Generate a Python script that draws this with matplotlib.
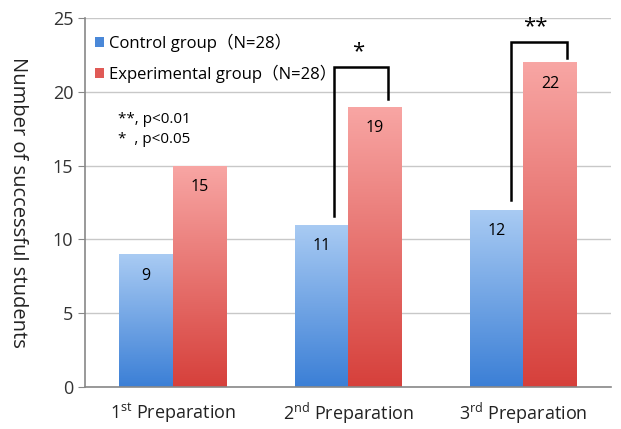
import numpy as np
import matplotlib
matplotlib.use('Agg')
import matplotlib.pyplot as plt
from matplotlib.colors import LinearSegmentedColormap
from matplotlib.patches import Rectangle

plt.rcParams['font.family'] = ['Open Sans', 'Noto Sans CJK JP', 'DejaVu Sans']
plt.rcParams['mathtext.fontset'] = 'custom'
plt.rcParams['mathtext.rm'] = 'Open Sans'

categories = ['1$^{\\mathrm{st}}$ Preparation', '2$^{\\mathrm{nd}}$ Preparation', '3$^{\\mathrm{rd}}$ Preparation']
control = [9, 11, 12]
experimental = [15, 19, 22]
series_names = ['Control group（N=28）', 'Experimental group（N=28）']
sig_marks = ['', '*', '**']

blue_cmap = LinearSegmentedColormap.from_list('b', ['#3b7fd6', '#a9cbf3'])
red_cmap = LinearSegmentedColormap.from_list('r', ['#d6403b', '#f8a6a4'])


def gradient_bar(ax, x, h, w, cmap):
    grad = np.linspace(0, 1, 256).reshape(-1, 1)
    im = ax.imshow(grad, cmap=cmap, origin='lower', aspect='auto',
                   extent=(x - w / 2, x + w / 2, 0, h), zorder=2)
    rect = Rectangle((x - w / 2, 0), w, h, transform=ax.transData,
                     facecolor='none', edgecolor='none')
    ax.add_patch(rect)
    im.set_clip_path(rect)


fig = plt.figure(figsize=(6.21, 4.29), dpi=100)
ax = fig.add_axes([0.137, 0.098, 0.847, 0.86])

w = 0.305
x = np.arange(len(categories))
for i in range(len(categories)):
    gradient_bar(ax, x[i] - w / 2, control[i], w, blue_cmap)
    gradient_bar(ax, x[i] + w / 2, experimental[i], w, red_cmap)
    ax.text(x[i] - w / 2, control[i] - 1.45, str(control[i]), ha='center',
            va='center', fontsize=11.5, zorder=4)
    ax.text(x[i] + w / 2, experimental[i] - 1.45, str(experimental[i]), ha='center',
            va='center', fontsize=11.5, zorder=4)

# significance brackets
brackets = [(1, 0.92, 1.23, 11.6, 21.7, 19.5), (2, 1.93, 2.25, 12.7, 23.4, 22.3)]
for i, x0, x1, y0, ytop, y1 in brackets:
    ax.plot([x0, x0, x1, x1], [y0, ytop, ytop, y1], color='black', lw=1.8,
            zorder=5, solid_joinstyle='miter')
    ax.text((x0 + x1) / 2 - 0.02, ytop + 0.3, sig_marks[i], ha='center',
            va='bottom', fontsize=16, zorder=5)

ax.set_xlim(-0.5, 2.5)
ax.set_ylim(0, 25)
ax.set_yticks(range(0, 26, 5))
ax.set_xticks(x)
ax.set_xticklabels(categories, fontsize=13)
ax.tick_params(axis='y', labelsize=13, colors='#333333', length=5, direction='out',
               color='#888888')
ax.tick_params(axis='x', length=0, pad=10, colors='#222222')
ax.yaxis.grid(True, color='#c8c8c8', lw=1)
ax.set_axisbelow(True)
for s in ['top', 'right']:
    ax.spines[s].set_visible(False)
ax.spines['left'].set_color('#888888')
ax.spines['bottom'].set_color('#888888')
ax.spines['left'].set_linewidth(1.2)
ax.spines['bottom'].set_linewidth(1.2)
ax.set_ylabel('Number of successful students', rotation=-90, fontsize=14.5,
              color='#222222', va='center')
ax.yaxis.set_label_coords(-0.128, 0.5)

# legend
handles = [Rectangle((0, 0), 1, 1, facecolor='#4a88d8'),
           Rectangle((0, 0), 1, 1, facecolor='#e05a56')]
leg = ax.legend(handles, series_names, loc='upper left', bbox_to_anchor=(0.0, 0.985),
                frameon=False, fontsize=12, handlelength=0.55, handleheight=0.55,
                handletextpad=0.3, labelspacing=0.75, borderaxespad=0.2)

ax.text(0.062, 0.745, '**, p<0.01\n*  , p<0.05', transform=ax.transAxes,
        fontsize=11, va='top', ha='left', linespacing=1.45)

fig.savefig('out.png', dpi=100)
